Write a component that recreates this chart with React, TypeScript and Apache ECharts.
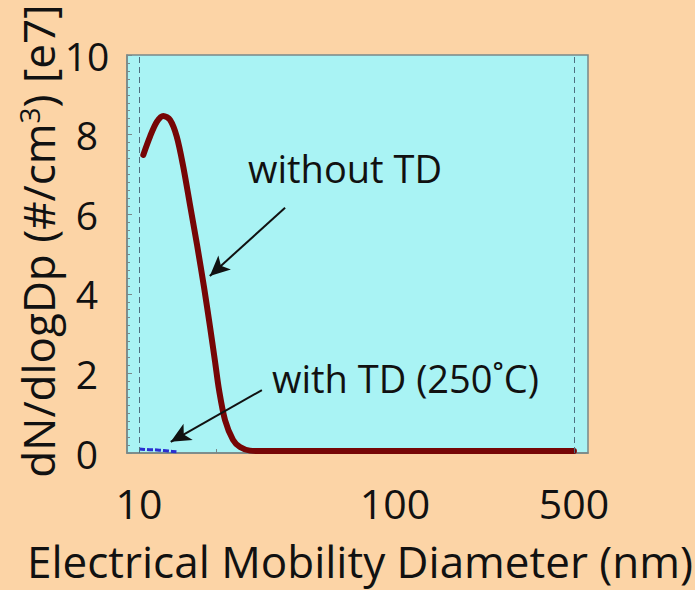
import React, { useEffect, useRef } from "react";
import * as echarts from "echarts";

// Electrical mobility diameter (nm) and dN/dlogDp (x1e7 #/cm3)
const diametersNoTD = [10.39, 11.04, 11.73, 12.44, 13.22, 14.04, 14.89, 15.82, 16.85, 17.94, 18.94, 19.82, 20.54, 21.67, 23.29, 24.8, 27.1, 30, 40, 60, 100, 200, 300, 500];
const withoutTD = [7.49, 7.95, 8.32, 8.47, 8.37, 7.95, 7.19, 6.23, 5.23, 4.17, 3.17, 2.29, 1.58, 0.83, 0.33, 0.15, 0.06, 0.05, 0.05, 0.05, 0.05, 0.05, 0.05, 0.05];
const diametersTD = [10, 10.5, 11, 11.5, 12, 12.5, 13, 13.5, 14];
const withTD = [0.1, 0.09, 0.08, 0.08, 0.07, 0.06, 0.05, 0.04, 0.03];
const xTickLabels = [10, 100, 500];
const xMinorTicks = [20];
const rangeLimits = [10, 500];

const FONT = "Open Sans";

export default function App() {
  const ref = useRef<HTMLDivElement>(null);
  useEffect(() => {
    if (!ref.current) return;
    const chart = echarts.init(ref.current, null, { renderer: "svg" });
    const lg = (v: number) => Math.log10(v);
    const option: any = {
      animation: false,
      backgroundColor: "#FCD4A6",
      grid: {
        left: 127,
        right: 107,
        top: 55,
        bottom: 137,
        show: true,
        backgroundColor: "#A9F3F4",
        borderColor: "#7a8888",
        borderWidth: 1.5,
      },
      xAxis: {
        type: "value",
        min: 0.953,
        max: 2.754,
        axisLine: { show: true, lineStyle: { color: "#7a8888", width: 1.5 } },
        splitLine: { show: false },
        axisTick: {
          show: true,
          inside: true,
          length: 4,
          customValues: [...xTickLabels, ...xMinorTicks].map(lg),
          lineStyle: { color: "#7a8888" },
        },
        axisLabel: {
          customValues: xTickLabels.map(lg),
          margin: 29,
          fontFamily: FONT,
          fontSize: 41,
          color: "#111",
          formatter: (v: number) => String(Math.round(Math.pow(10, v))),
        },
      },
      yAxis: {
        type: "value",
        min: 0,
        max: 10,
        interval: 2,
        axisLine: { show: true, lineStyle: { color: "#7a8888", width: 1.5 } },
        splitLine: { show: false },
        axisTick: { show: true, inside: true, length: 5, lineStyle: { color: "#7a8888" } },
        minorTick: { show: true, splitNumber: 10, length: 3, lineStyle: { color: "#7a8888" } },
        axisLabel: {
          margin: 40,
          align: "center",
          fontFamily: FONT,
          fontSize: 39,
          color: "#111",
          padding: [10, 0, 0, 0],
        },
      },
      series: [
        {
          type: "line",
          name: "with TD (250˚C)",
          data: diametersTD.map((d, i) => [lg(d), withTD[i]]),
          showSymbol: false,
          lineStyle: { color: "#2a2fd0", width: 3, type: [6, 2] },
          z: 2,
        },
        {
          type: "line",
          name: "without TD",
          data: diametersNoTD.map((d, i) => [lg(d), withoutTD[i]]),
          showSymbol: false,
          smooth: 0.3,
          lineStyle: { color: "#760606", width: 6, cap: "round", join: "round" },
          z: 3,
          markLine: {
            silent: true,
            symbol: ["none", "none"],
            label: { show: false },
            lineStyle: { color: "#4f6f80", width: 1, type: [6, 4] },
            data: rangeLimits.map((d) => ({ xAxis: lg(d) })),
          },
        },
        {
          type: "line",
          data: [],
          markLine: {
            silent: true,
            symbol: ["none", "arrow"],
            symbolSize: [14, 20],
            label: { show: false },
            lineStyle: { color: "#111", width: 2, type: "solid" },
            data: [
              [{ coord: [lg(37.2), 6.16] }, { coord: [lg(18.9), 4.45] }],
              [{ coord: [lg(30.2), 1.58] }, { coord: [lg(13.3), 0.28] }],
            ],
          },
        },
      ],
      graphic: [
        {
          type: "text",
          left: 248,
          top: 149,
          style: { text: "without TD", fontFamily: FONT, fontSize: 38, fill: "#111" },
        },
        {
          type: "text",
          left: 272,
          top: 359,
          style: { text: "with TD (250˚C)", fontFamily: FONT, fontSize: 38, fill: "#111" },
        },
        {
          type: "text",
          x: 360,
          y: 561,
          style: {
            text: "Electrical Mobility Diameter (nm)",
            fontFamily: FONT,
            fontSize: 44,
            fill: "#111",
            align: "center",
            verticalAlign: "middle",
          },
        },
        {
          type: "text",
          x: 38,
          y: 241,
          rotation: Math.PI / 2,
          style: {
            text: "{t|dN/dlogDp (#/cm}{s|3}{t|) [e7]}",
            align: "center",
            verticalAlign: "middle",
            rich: {
              t: { fontFamily: FONT, fontSize: 44, fill: "#111" },
              s: { fontFamily: FONT, fontSize: 28, fill: "#111", padding: [0, 0, 18, 0] },
            },
          },
        },
      ],
    };
    chart.setOption(option);
    return () => chart.dispose();
  }, []);
  return (
    <div
      ref={ref}
      style={{ position: "fixed", left: 0, top: 0, width: 695, height: 590 }}
    />
  );
}
